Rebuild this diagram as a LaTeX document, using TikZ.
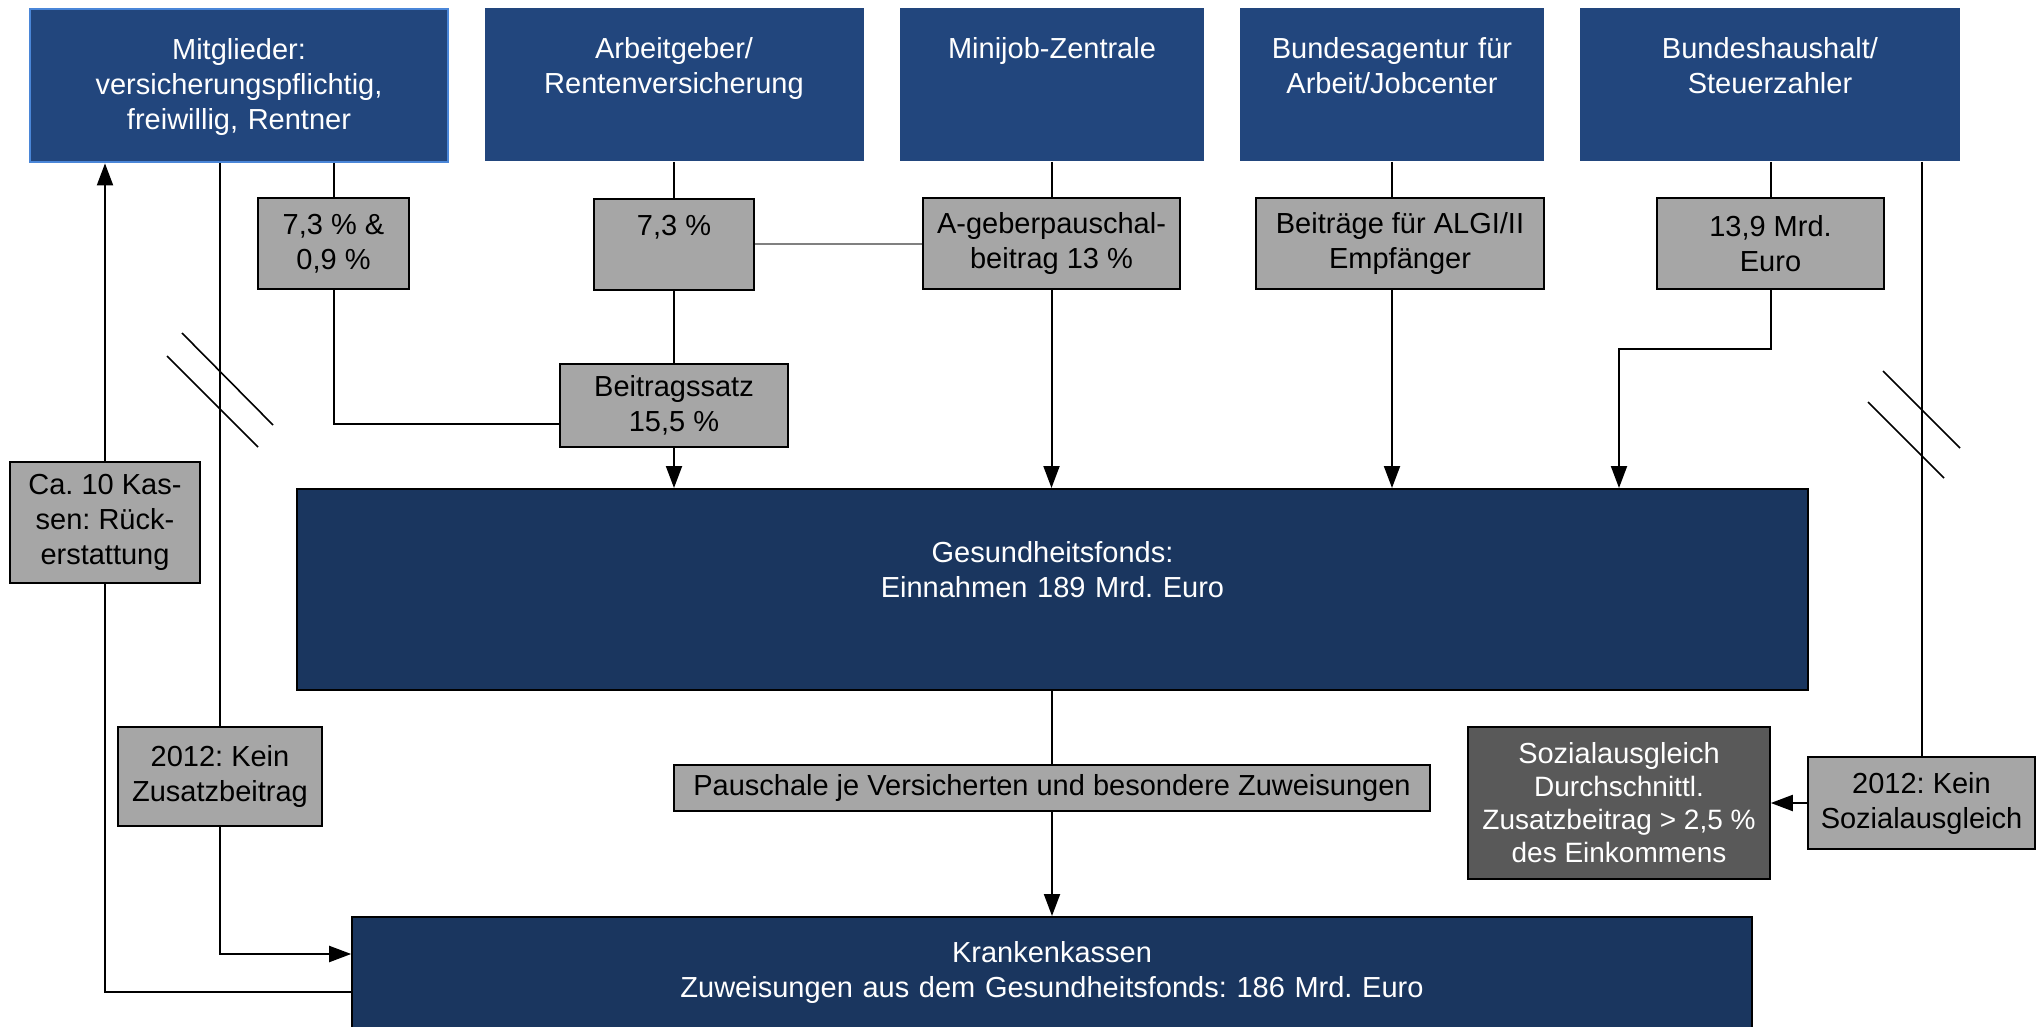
\documentclass[tikz,border=0pt]{standalone}
\usepackage{fontspec}
\setmainfont{Liberation Sans}
\usepackage{tikz}
\usetikzlibrary{arrows.meta, positioning}
\definecolor{kopfblau}{HTML}{22467D}
\definecolor{fondsblau}{HTML}{1A365F}
\definecolor{kastengrau}{HTML}{A6A6A6}
\definecolor{dunkelgrau}{HTML}{595959}
\definecolor{mitgliederrand}{HTML}{4A86D8}
\newcommand{\kastenschrift}{\fontsize{14.5}{17.5}\selectfont}
\newcommand{\kleinschrift}{\fontsize{14}{16.5}\selectfont}
\tikzset{
    topbox/.style={rectangle, fill=kopfblau, text=white, align=center, inner sep=0pt, text width=150pt, text height=25pt, text depth=51.5pt, anchor=north, font=\kastenschrift},
    fondsbox/.style={rectangle, draw=black, fill=fondsblau, text=white, align=center, inner sep=0pt, text width=700pt, anchor=north, line width=0.8pt, font=\kastenschrift},
    greybox/.style={rectangle, draw=black, fill=kastengrau, align=center, inner sep=0pt, line width=0.8pt, font=\kastenschrift},
    darkbox/.style={greybox, fill=dunkelgrau, text=white},
    arrow/.style={-{Triangle[length=11pt, width=8pt]}, line width=1pt},
    line/.style={line width=1pt},
    thinline/.style={line width=0.8pt, gray},
    breakline/.style={line width=0.8pt}
}
\begin{document}
\frenchspacing
\begin{tikzpicture}[x=0.5pt, y=-0.5pt]
    \useasboundingbox (0,0) rectangle (2040,1027);

    % Zahler (top row)
    \node[topbox, draw=mitgliederrand, line width=1.2pt, minimum width=209pt] (mitglieder) at (239,8) {Mitglieder:\\versicherungspflichtig,\\freiwillig, Rentner};
    \node[topbox, minimum width=189.5pt] (arbeitgeber) at (674,8) {Arbeitgeber/\\Rentenversicherung};
    \node[topbox, minimum width=152pt] (minijob) at (1052,8) {Minijob-Zentrale};
    \node[topbox, minimum width=152pt] (bundesagentur) at (1392,8) {Bundesagentur für\\Arbeit/Jobcenter};
    \node[topbox, minimum width=190pt] (bundeshaushalt) at (1770,8) {Bundeshaushalt/\\Steuerzahler};

    % Beitraege (second row)
    \node[greybox, minimum width=75.5pt, minimum height=45.5pt] (satz_mitglieder) at (333.5,243.5) {7,3 \% \&\\0,9 \%};
    \node[greybox, minimum width=80pt, text height=18.25pt, text depth=27.25pt, anchor=north] (satz_arbeitgeber) at (674,198) {7,3 \%};
    \node[greybox, minimum width=128.5pt, minimum height=45.5pt] (pauschal_minijob) at (1051.5,243.5) {A-geberpauschal-\\beitrag 13 \%};
    \node[greybox, minimum width=144pt, minimum height=45.5pt] (beitraege_ba) at (1400,243.5) {Beiträge für ALGI/II\\Empfänger};
    \node[greybox, minimum width=113.5pt, minimum height=45.5pt] (zuschuss_bund) at (1770.5,243.5) {13,9 Mrd.\\Euro};

    % Beitragssatz
    \node[greybox, minimum width=114pt, minimum height=41.5pt] (beitragssatz) at (674,405.5) {Beitragssatz\\15,5 \%};

    % Gesundheitsfonds (center)
    \node[fondsbox, minimum width=755.5pt, text height=37pt, text depth=63.5pt] (fonds) at (1052.5,488) {Gesundheitsfonds:\\Einnahmen 189 Mrd. Euro};

    % Left side: Rueckerstattung, Zusatzbeitrag
    \node[greybox, minimum width=95pt, minimum height=60.5pt] (rueck) at (105,522.5) {Ca. 10 Kas-\\sen: Rück-\\erstattung};
    \node[greybox, minimum width=102pt, minimum height=49.5pt] (zusatz) at (220,776.5) {2012: Kein\\Zusatzbeitrag};

    % Zuweisungen
    \node[greybox, minimum width=378pt, minimum height=23pt] (pauschale) at (1052,788) {Pauschale je Versicherten und besondere Zuweisungen};

    % Sozialausgleich (right)
    \node[darkbox, minimum width=151pt, minimum height=76pt, font=\kleinschrift] (sozial) at (1619,803) {{\fontsize{14.5}{16.5}\selectfont Sozialausgleich}\\Durchschnittl.\\Zusatzbeitrag > 2,5 \%\\des Einkommens};
    \node[greybox, minimum width=113.5pt, minimum height=46pt] (kein_sozial) at (1921.5,803) {2012: Kein\\Sozialausgleich};

    % Krankenkassen (bottom)
    \node[fondsbox, minimum width=700pt, text height=23pt, text depth=40pt] (kassen) at (1052,916) {Krankenkassen\\Zuweisungen aus dem Gesundheitsfonds: 186 Mrd. Euro};

    % Lines
    \draw[line] (satz_mitglieder.north |- mitglieder.south) -- (satz_mitglieder.north);
    \draw[line] (satz_mitglieder.south) |- ([yshift=-9.25pt]beitragssatz.west);
    \draw[line] (arbeitgeber.south) -- (satz_arbeitgeber.north);
    \draw[line] (satz_arbeitgeber.south) -- (beitragssatz.north);
    \draw[thinline] (satz_arbeitgeber.east) -- (satz_arbeitgeber.east -| pauschal_minijob.west);
    \draw[arrow] (beitragssatz.south) -- (beitragssatz.south |- fonds.north);
    \draw[line] (pauschal_minijob.north |- minijob.south) -- (pauschal_minijob.north);
    \draw[arrow] (pauschal_minijob.south) -- (pauschal_minijob.south |- fonds.north);
    \draw[line] (bundesagentur.south) -- (bundesagentur.south |- beitraege_ba.north);
    \draw[arrow] (bundesagentur.south |- beitraege_ba.south) -- (bundesagentur.south |- fonds.north);
    \draw[line] (zuschuss_bund.north |- bundeshaushalt.south) -- (zuschuss_bund.north);
    \coordinate (bund_knick) at (1619,349);
    \draw[arrow] (zuschuss_bund.south) |- (bund_knick) -- (bund_knick |- fonds.north);
    \draw[line] (kein_sozial.north |- bundeshaushalt.south) -- (kein_sozial.north);
    \draw[arrow] (kein_sozial.west) -- (sozial.east);
    \draw[line] (pauschale.north |- fonds.south) -- (pauschale.north);
    \draw[arrow] (pauschale.south) -- (kassen.north);
    \draw[line] (zusatz.north |- mitglieder.south) -- (zusatz.north);
    \draw[arrow] (zusatz.south) |- ([yshift=-19pt]kassen.north west);
    \draw[line] ([yshift=-38pt]kassen.north west) -| (rueck.south);
    \draw[arrow] (rueck.north) -- (rueck.north |- mitglieder.south);

    % Unterbrechung
    \draw[breakline] (182,333) -- (273,425);
    \draw[breakline] (167,356) -- (258,447);
    \draw[breakline] (1883,371) -- (1960,448);
    \draw[breakline] (1868,402) -- (1944,478);
\end{tikzpicture}
\end{document}
